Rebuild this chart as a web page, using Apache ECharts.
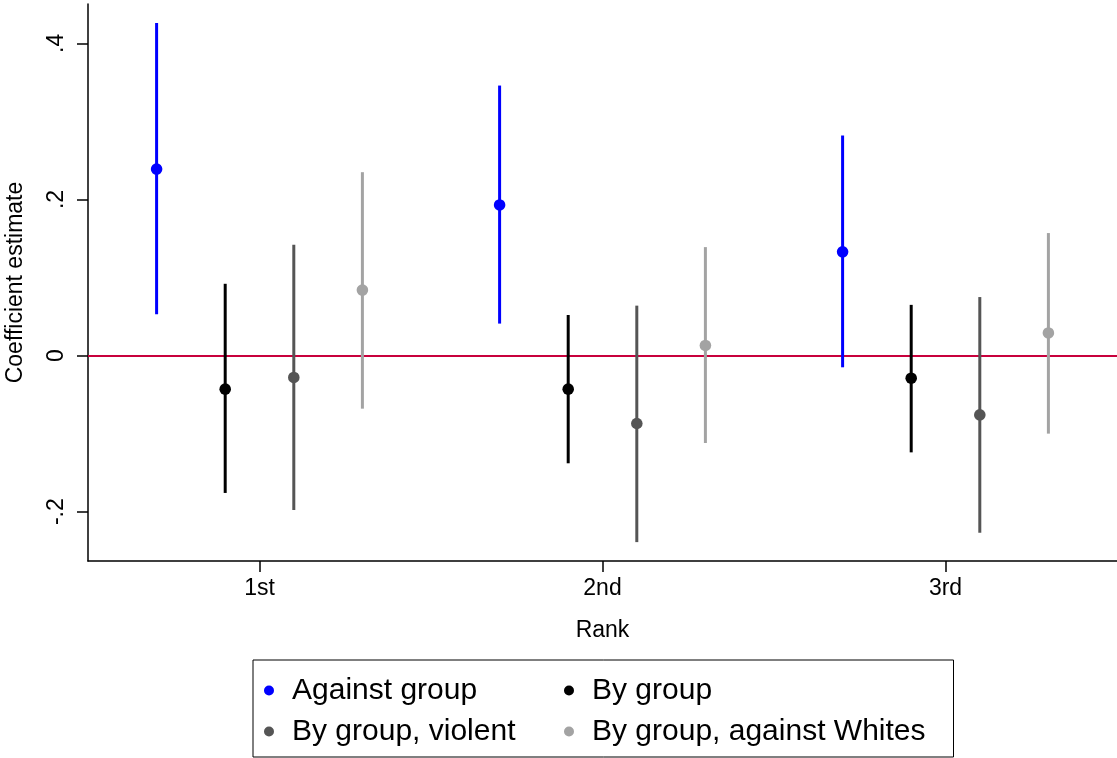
<!DOCTYPE html>
<html>
<head>
<meta charset="utf-8">
<script src="https://cdn.jsdelivr.net/npm/echarts@6/dist/echarts.min.js"></script>
<style>
	html, body { margin: 0; padding: 0; background: #fff; }
	#chart { width: 1117px; height: 758px; }
</style>
</head>
<body>
<div id="chart"></div>
<script>
// x axis categories
const rankLabels = ['1st', '2nd', '3rd']
const rankPos = [1, 2, 3]
// y axis ticks
const yTicks = [-0.2, 0, 0.2, 0.4]
const yTickLabels = ['-.2', '0', '.2', '.4']

const seriesNames = ['Against group', 'By group', 'By group, violent', 'By group, against Whites']

// point estimates and 95% CI per rank
const againstEst = [0.239, 0.193, 0.133]
const againstLo = [0.053, 0.041, -0.015]
const againstHi = [0.426, 0.346, 0.282]

const byGroupEst = [-0.043, -0.043, -0.029]
const byGroupLo = [-0.176, -0.138, -0.124]
const byGroupHi = [0.092, 0.052, 0.065]

const violentEst = [-0.028, -0.087, -0.076]
const violentLo = [-0.198, -0.239, -0.227]
const violentHi = [0.142, 0.064, 0.075]

const whitesEst = [0.084, 0.013, 0.029]
const whitesLo = [-0.068, -0.112, -0.100]
const whitesHi = [0.235, 0.139, 0.157]

const groups = [
	{ est: againstEst, lo: againstLo, hi: againstHi },
	{ est: byGroupEst, lo: byGroupLo, hi: byGroupHi },
	{ est: violentEst, lo: violentLo, hi: violentHi },
	{ est: whitesEst, lo: whitesLo, hi: whitesHi },
]
const colors = ['#0000ff', '#000000', '#555555', '#a3a3a3']
const dodge = [-0.3, -0.1, 0.1, 0.3]
const font = '"Liberation Sans", Arial, Helvetica, sans-serif'

// 误差线 + 点
const renderCI = (params, api) => {
	const x = api.value(0)
	const pEst = api.coord([x, api.value(1)])
	const pLo = api.coord([x, api.value(2)])
	const pHi = api.coord([x, api.value(3)])
	const color = api.visual('color')
	return {
		type: 'group',
		children: [
			{
				type: 'line',
				shape: { x1: pLo[0], y1: pLo[1], x2: pHi[0], y2: pHi[1] },
				style: { stroke: color, lineWidth: 3 },
			},
			{
				type: 'circle',
				shape: { cx: pEst[0], cy: pEst[1], r: 5.8 },
				style: { fill: color },
			},
		],
	}
}

const series = groups.map((g, i) => {
	const s = {
		name: seriesNames[i],
		type: 'custom',
		renderItem: renderCI,
		itemStyle: { color: colors[i] },
		encode: { x: 0, y: [1, 2, 3] },
		data: rankPos.map((p, k) => [p + dodge[i], g.est[k], g.lo[k], g.hi[k]]),
		z: 3,
	}
	if (i === 0) {
		s.markLine = {
			silent: true,
			symbol: ['none', 'none'],
			label: { show: false },
			lineStyle: { color: '#c8003c', width: 2.2, type: 'solid' },
			data: [{ yAxis: 0 }],
			z: 1,
		}
	}
	return s
})

const option = {
	animation: false,
	backgroundColor: '#fff',
	textStyle: { fontFamily: font },
	grid: { left: 88, right: 0, top: 4, bottom: 197, outerBoundsMode: 'none', containLabel: false },
	xAxis: {
		type: 'value',
		min: 0.5,
		max: 3.5,
		name: 'Rank',
		nameLocation: 'middle',
		nameGap: 58,
		nameTextStyle: { fontSize: 23, color: '#000', fontFamily: font },
		axisLine: { onZero: false, lineStyle: { color: '#000', width: 1.5 } },
		axisTick: { length: 11, lineStyle: { color: '#000', width: 1.5 }, customValues: rankPos },
		axisLabel: {
			customValues: rankPos,
			fontSize: 23,
			color: '#000',
			margin: 16,
			formatter: (v) => rankLabels[rankPos.indexOf(v)],
		},
		splitLine: { show: false },
	},
	yAxis: {
		type: 'value',
		min: -0.2632,
		max: 0.4505,
		name: 'Coefficient estimate',
		nameLocation: 'middle',
		nameGap: 61,
		nameTextStyle: { fontSize: 23, color: '#000', fontFamily: font },
		axisLine: { show: true, onZero: false, lineStyle: { color: '#000', width: 1.5 } },
		axisTick: { show: true, length: 11, lineStyle: { color: '#000', width: 1.5 }, customValues: yTicks },
		axisLabel: {
			customValues: yTicks,
			rotate: 90,
			fontSize: 23,
			color: '#000',
			margin: 20,
			formatter: (v) => yTickLabels[yTicks.indexOf(v)],
		},
		splitLine: { show: false },
	},
	legend: {
		data: seriesNames,
		left: 253,
		top: 660,
		orient: 'horizontal',
		width: 690,
		icon: 'circle',
		itemWidth: 10,
		itemHeight: 10,
		itemGap: 2,
		padding: [11, 28, 6, 11],
		borderColor: '#000',
		borderWidth: 1,
		textStyle: {
			fontSize: 30,
			color: '#000',
			fontFamily: font,
			width: 270,
			lineHeight: 39,
			padding: [0, 0, 0, 13],
		},
	},
	series: series,
}

const myChart = echarts.init(document.getElementById('chart'))
myChart.setOption(option)
</script>
</body>
</html>
